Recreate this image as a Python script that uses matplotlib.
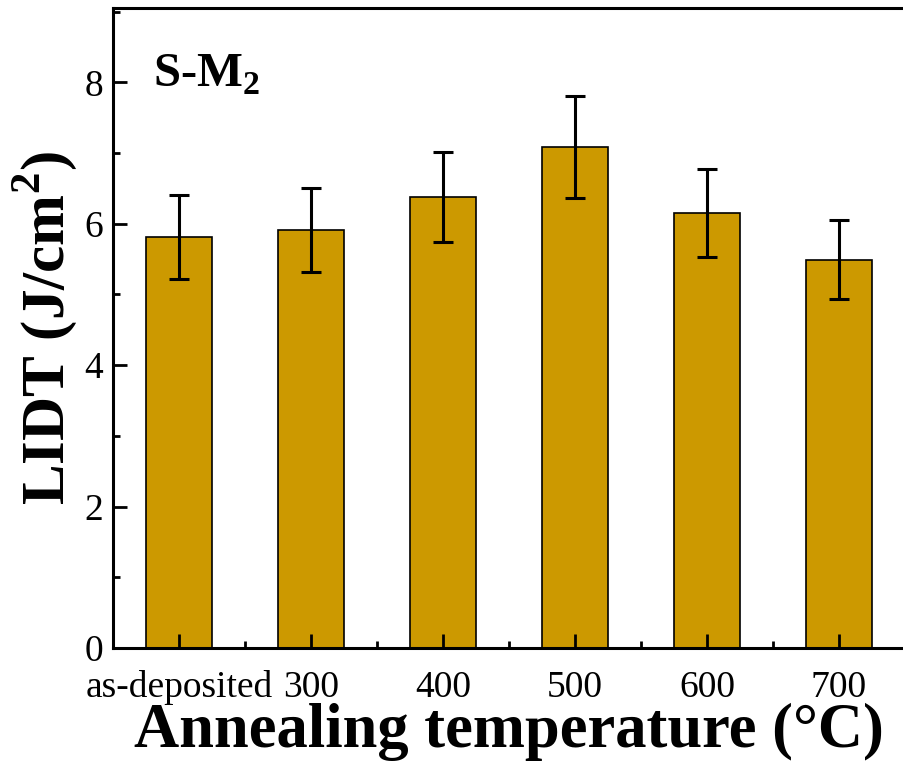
import matplotlib
matplotlib.use("Agg")
import matplotlib.pyplot as plt
from matplotlib.ticker import FixedLocator, MultipleLocator

# ── 数据 ──────────────────────────────────────────────────────────────
categories = ["as-deposited", "300", "400", "500", "600", "700"]
lidt = [5.81, 5.91, 6.38, 7.09, 6.15, 5.49]
lidt_err = [0.59, 0.60, 0.64, 0.72, 0.62, 0.56]

plt.rcParams["font.family"] = ["Liberation Serif", "DejaVu Serif"]
plt.rcParams["mathtext.fontset"] = "custom"
plt.rcParams["mathtext.rm"] = "Liberation Serif"
plt.rcParams["mathtext.bf"] = "Liberation Serif:bold"

fig = plt.figure(figsize=(9.04, 7.69), dpi=100)
ax = fig.add_axes([113 / 904, 121 / 769, 792 / 904, 640 / 769])
ax.set_axisbelow(False)

x = list(range(len(categories)))
ax.bar(x, lidt, width=0.5, color="#CC9900", edgecolor="black", linewidth=1.2,
       yerr=lidt_err, capsize=7,
       error_kw=dict(elinewidth=2.2, capthick=2.2, ecolor="black"), zorder=2)

ax.set_xlim(-0.5, len(categories) - 0.5)
ax.set_ylim(0, 9.05)
ax.set_xticks(x)
ax.set_xticklabels(categories)
ax.xaxis.set_minor_locator(FixedLocator([i + 0.5 for i in x[:-1]]))
ax.yaxis.set_major_locator(MultipleLocator(2))
ax.yaxis.set_minor_locator(MultipleLocator(1))

ax.tick_params(which="both", direction="in", width=2, labelsize=27)
ax.tick_params(which="major", length=10)
ax.tick_params(which="minor", length=5)
ax.tick_params(axis="x", which="major", pad=16)
ax.tick_params(axis="y", which="major", pad=7)
ax.spines["right"].set_visible(False)
for s in ax.spines.values():
    s.set_linewidth(2.2)

ax.set_xlabel("Annealing temperature (°C)", fontsize=45, fontweight="bold", labelpad=-2)
ax.set_ylabel(r"LIDT (J/cm$^\mathbf{2}$)", fontsize=44, fontweight="bold", labelpad=4)
ax.text(0.05, 0.93, r"S-M$_\mathbf{2}$", transform=ax.transAxes, fontsize=35,
        fontweight="bold", va="top", ha="left")

fig.savefig("out.png", dpi=100)
